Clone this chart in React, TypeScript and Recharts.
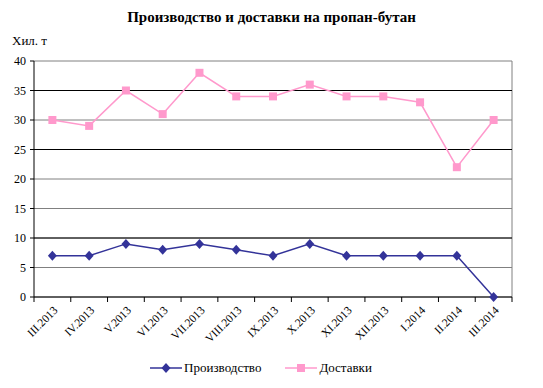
import React from 'react';
import { LineChart, Line, XAxis, YAxis, CartesianGrid, ReferenceLine, Legend } from 'recharts';

const months = ['III.2013', 'IV.2013', 'V.2013', 'VI.2013', 'VII.2013', 'VIII.2013', 'IX.2013', 'X.2013', 'XI.2013', 'XII.2013', 'I.2014', 'II.2014', 'III.2014'];
const production = [7, 7, 9, 8, 9, 8, 7, 9, 7, 7, 7, 7, 0];
const deliveries = [30, 29, 35, 31, 38, 34, 34, 36, 34, 34, 33, 22, 30];
const yTicks = [0, 5, 10, 15, 20, 25, 30, 35, 40];
const darkGridLines = [10, 25, 35];

const data = months.map((m, i) => ({ month: m, production: production[i], deliveries: deliveries[i] }));

const FONT = '"Liberation Serif", "DejaVu Serif", serif';
const BLUE = '#333399';
const PINK = '#FF99CC';

const plotLeft = 34;
const plotRight = 512;
const band = (plotRight - plotLeft) / months.length;

const Diamond = ({ cx, cy, fill }) => (
  <path d={`M${cx},${cy - 5}L${cx + 4.5},${cy}L${cx},${cy + 5}L${cx - 4.5},${cy}Z`} fill={fill} />
);

const Square = ({ cx, cy, fill }) => <rect x={cx - 4} y={cy - 4} width={8} height={8} fill={fill} />;

// month label rotated 45deg, plus the tick mark between categories (excel style)
const MonthTick = (props) => {
  const { x, y, payload, index } = props;
  return (
    <g>
      <line x1={x - band / 2} y1={y} x2={x - band / 2} y2={y + 5} stroke="#000" />
      {index === months.length - 1 && (
        <line x1={x + band / 2} y1={y} x2={x + band / 2} y2={y + 5} stroke="#000" />
      )}
      <text
        x={x + 6}
        y={y + 14}
        transform={`rotate(-45 ${x + 6} ${y + 14})`}
        textAnchor="end"
        fontSize={11.5}
        fontFamily={FONT}
        fill="#000"
      >
        {payload.value}
      </text>
    </g>
  );
};

const LegendContent = () => (
  <div style={{ display: 'flex', justifyContent: 'center', fontFamily: FONT, fontSize: 13, marginLeft: 10 }}>
    <div style={{ display: 'flex', alignItems: 'center', marginRight: 24 }}>
      <svg width={32} height={12}>
        <line x1={0} y1={6} x2={32} y2={6} stroke={BLUE} strokeWidth={1.5} />
        <Diamond cx={16} cy={6} fill={BLUE} />
      </svg>
      <span style={{ marginLeft: 2 }}>Производство</span>
    </div>
    <div style={{ display: 'flex', alignItems: 'center' }}>
      <svg width={32} height={12}>
        <line x1={0} y1={6} x2={32} y2={6} stroke={PINK} strokeWidth={1.5} />
        <Square cx={16} cy={6} fill={PINK} />
      </svg>
      <span style={{ marginLeft: 2 }}>Доставки</span>
    </div>
  </div>
);

export default function App() {
  return (
    <div style={{ position: 'absolute', left: 0, top: 0, width: 543, height: 388, background: '#fff' }}>
      <div
        style={{
          position: 'absolute',
          top: 9,
          left: 0,
          width: 543,
          textAlign: 'center',
          fontFamily: FONT,
          fontWeight: 'bold',
          fontSize: 15,
        }}
      >
        Производство и доставки на пропан-бутан
      </div>
      <div style={{ position: 'absolute', top: 33, left: 12, fontFamily: FONT, fontSize: 13 }}>Хил. т</div>
      <LineChart width={543} height={388} data={data} margin={{ top: 61, right: 31, bottom: 4, left: 0 }}>
        <CartesianGrid stroke="#808080" vertical={true} verticalPoints={[plotRight]} />
        {darkGridLines.map((v) => (
          <ReferenceLine key={v} y={v} stroke="#000" />
        ))}
        <XAxis
          dataKey="month"
          interval={0}
          height={63}
          padding={{ left: band / 2, right: band / 2 }}
          tickLine={false}
          tickSize={0}
          tickMargin={0}
          tick={<MonthTick />}
          axisLine={{ stroke: '#000' }}
        />
        <YAxis
          domain={[0, 40]}
          ticks={yTicks}
          width={34}
          tickSize={4}
          tickMargin={4}
          axisLine={{ stroke: '#000' }}
          tickLine={{ stroke: '#000' }}
          tick={{ fontSize: 12, fontFamily: FONT, fill: '#000' }}
        />
        <Legend verticalAlign="bottom" height={24} content={<LegendContent />} />
        <Line
          dataKey="production"
          stroke={BLUE}
          strokeWidth={1.5}
          dot={<Diamond fill={BLUE} />}
          isAnimationActive={false}
        />
        <Line
          dataKey="deliveries"
          stroke={PINK}
          strokeWidth={1.5}
          dot={<Square fill={PINK} />}
          isAnimationActive={false}
        />
      </LineChart>
    </div>
  );
}
